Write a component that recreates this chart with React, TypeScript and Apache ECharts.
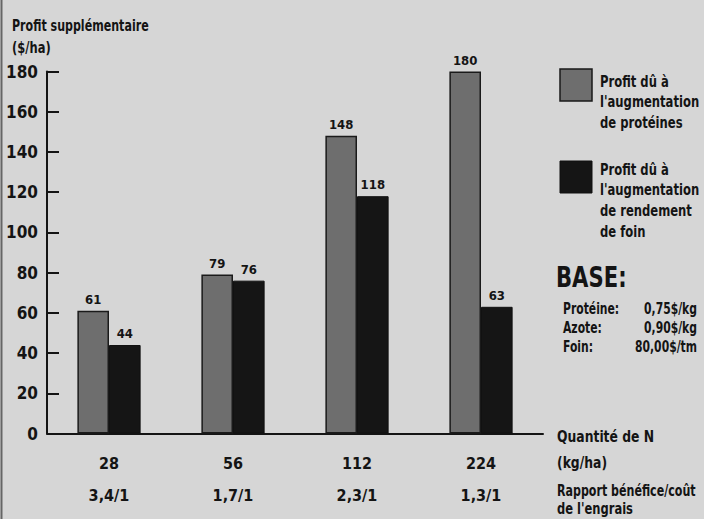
import React, { useEffect, useRef } from "react";
import * as echarts from "echarts";

const categories = ["28", "56", "112", "224"];
const ratios = ["3,4/1", "1,7/1", "2,3/1", "1,3/1"];
const proteinProfit = [61, 79, 148, 180];
const yieldProfit = [44, 76, 118, 63];
const yTicks = { min: 0, max: 180, interval: 20 };

const FONT = "'DejaVu Sans Condensed', 'Liberation Sans Narrow', sans-serif";
const INK = "#141414";

export default function App() {
  const ref = useRef<HTMLDivElement>(null);
  useEffect(() => {
    if (!ref.current) return;
    const chart = echarts.init(ref.current, undefined, { renderer: "svg" });
    const txt = (x: number, y: number, text: string, size: number, sx: number, extra: any = {}) => ({
      type: "text",
      x,
      y,
      scaleX: sx,
      style: {
        text,
        font: `bold ${size}px ${FONT}`,
        fill: INK,
        textVerticalAlign: "middle",
        ...extra,
      },
    });
    chart.setOption({
      animation: false,
      backgroundColor: "#d6d6d6",
      grid: { left: 47, right: 161, top: 71.5, bottom: 85.5, containLabel: false },
      xAxis: {
        type: "category",
        data: categories,
        axisLine: { lineStyle: { color: INK, width: 2 } },
        axisTick: { inside: true, length: 9, lineStyle: { color: INK, width: 2 } },
        axisLabel: {
          margin: 14,
          fontFamily: FONT,
          fontWeight: "bold",
          fontSize: 16,
          color: INK,
          lineHeight: 32,
          formatter: (v: string, i: number) => `${v}\n${ratios[i]}`,
        },
      },
      yAxis: {
        type: "value",
        min: yTicks.min,
        max: yTicks.max,
        interval: yTicks.interval,
        splitLine: { show: false },
        axisLine: { show: true, lineStyle: { color: INK, width: 2 } },
        axisTick: { show: true, inside: true, length: 12, lineStyle: { color: INK, width: 2 } },
        axisLabel: {
          margin: 9,
          fontFamily: FONT,
          fontWeight: "bold",
          fontSize: 17,
          color: INK,
        },
      },
      series: [
        {
          type: "bar",
          data: proteinProfit,
          barGap: "0%",
          barCategoryGap: "49%",
          itemStyle: { color: "#6e6e6e", borderColor: "#1a1a1a", borderWidth: 1.5 },
          label: {
            show: true,
            position: "top",
            distance: 5,
            fontFamily: FONT,
            fontWeight: "bold",
            fontSize: 13,
            color: INK,
          },
        },
        {
          type: "bar",
          data: yieldProfit,
          itemStyle: { color: "#151515", borderColor: "#111", borderWidth: 1 },
          label: {
            show: true,
            position: "top",
            distance: 5,
            fontFamily: FONT,
            fontWeight: "bold",
            fontSize: 13,
            color: INK,
          },
        },
      ],
      graphic: [
        { type: "line", shape: { x1: 1.5, y1: 0, x2: 1.5, y2: 519 }, style: { stroke: "#666", lineWidth: 2 } },
        txt(12, 25, "Profit supplémentaire", 16, 0.77),
        txt(12, 47, "($/ha)", 16, 0.8),
        { type: "rect", shape: { x: 560, y: 69, width: 32, height: 32 }, style: { fill: "#6e6e6e", stroke: "#1a1a1a", lineWidth: 1.5 } },
        txt(600, 82, "Profit dû à", 15, 0.86),
        txt(600, 102, "l'augmentation", 15, 0.86),
        txt(600, 123, "de protéines", 15, 0.86),
        { type: "rect", shape: { x: 560, y: 161, width: 32, height: 32 }, style: { fill: "#151515", stroke: "#111", lineWidth: 1 } },
        txt(600, 170, "Profit dû à", 15, 0.86),
        txt(600, 190, "l'augmentation", 15, 0.86),
        txt(600, 211, "de rendement", 15, 0.86),
        txt(600, 232, "de foin", 15, 0.86),
        txt(556, 277, "BASE:", 28, 0.84),
        txt(563, 308, "Protéine:", 15, 0.8),
        txt(563, 327, "Azote:", 15, 0.8),
        txt(563, 346, "Foin:", 15, 0.8),
        txt(697, 308, "0,75$/kg", 15, 0.8, { textAlign: "right" }),
        txt(697, 327, "0,90$/kg", 15, 0.8, { textAlign: "right" }),
        txt(697, 346, "80,00$/tm", 15, 0.8, { textAlign: "right" }),
        txt(557, 437, "Quantité de N", 16, 0.86),
        txt(557, 463, "(kg/ha)", 16, 0.86),
        txt(557, 490, "Rapport bénéfice/coût", 16, 0.77),
        txt(557, 508, "de l'engrais", 16, 0.8),
      ],
    });
    return () => chart.dispose();
  }, []);
  return <div ref={ref} style={{ width: 704, height: 519, position: "absolute", left: 0, top: 0 }} />;
}
